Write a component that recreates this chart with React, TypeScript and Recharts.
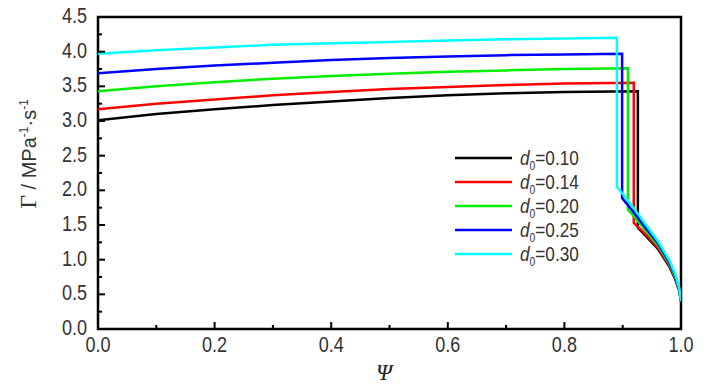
import React from 'react'
import { LineChart, Line, XAxis, YAxis, ReferenceArea, Customized } from 'recharts';

// shared Psi positions of the slowly rising part
const risePsi = [0, 0.1, 0.2, 0.3, 0.4, 0.5, 0.6, 0.7, 0.8];

const labels = ['0.10', '0.14', '0.20', '0.25', '0.30'];
const colors = ['#000000', '#ff0000', '#00ee00', '#0000ff', '#00ffff'];

// rising part (one value per risePsi entry)
const riseBlack = [3.01, 3.10, 3.17, 3.23, 3.28, 3.33, 3.37, 3.40, 3.42];
const riseRed = [3.17, 3.25, 3.31, 3.37, 3.42, 3.46, 3.49, 3.52, 3.54];
const riseGreen = [3.43, 3.50, 3.56, 3.61, 3.65, 3.68, 3.71, 3.73, 3.75];
const riseBlue = [3.69, 3.75, 3.80, 3.84, 3.88, 3.91, 3.93, 3.95, 3.96];
const riseCyan = [3.97, 4.02, 4.06, 4.10, 4.12, 4.14, 4.16, 4.18, 4.19];

// where each curve drops, and the value just before the drop
const dropPsi = [0.926, 0.919, 0.909, 0.899, 0.890];
const dropTop = [3.43, 3.55, 3.76, 3.97, 4.20];

// falling tail after the drop
const tailBlackPsi = [0.926, 0.94, 0.96, 0.98, 0.99, 0.997, 1.0];
const tailBlack = [1.46, 1.34, 1.16, 0.90, 0.72, 0.55, 0.40];
const tailRedPsi = [0.919, 0.94, 0.96, 0.98, 0.99, 0.997, 1.0];
const tailRed = [1.53, 1.36, 1.18, 0.92, 0.74, 0.56, 0.40];
const tailGreenPsi = [0.909, 0.92, 0.94, 0.96, 0.98, 0.99, 0.997, 1.0];
const tailGreen = [1.72, 1.62, 1.41, 1.21, 0.94, 0.75, 0.57, 0.40];
const tailBluePsi = [0.899, 0.92, 0.94, 0.96, 0.98, 0.99, 0.997, 1.0];
const tailBlue = [1.89, 1.67, 1.45, 1.24, 0.96, 0.77, 0.58, 0.40];
const tailCyanPsi = [0.890, 0.90, 0.92, 0.94, 0.96, 0.98, 0.99, 0.997, 1.0];
const tailCyan = [2.05, 1.95, 1.73, 1.50, 1.27, 0.99, 0.79, 0.59, 0.40];

const rises = [riseBlack, riseRed, riseGreen, riseBlue, riseCyan];
const tailsPsi = [tailBlackPsi, tailRedPsi, tailGreenPsi, tailBluePsi, tailCyanPsi];
const tails = [tailBlack, tailRed, tailGreen, tailBlue, tailCyan];

const xTicks = [0, 0.1, 0.2, 0.3, 0.4, 0.5, 0.6, 0.7, 0.8, 0.9, 1.0];
const yTicks = [0, 0.25, 0.5, 0.75, 1, 1.25, 1.5, 1.75, 2, 2.25, 2.5, 2.75, 3, 3.25, 3.5, 3.75, 4, 4.25, 4.5];

const series = labels.map((label, i) => ({
    label,
    color: colors[i],
    data: [
        ...risePsi.map((psi, j) => ({ psi, g: rises[i][j] })),
        { psi: dropPsi[i], g: dropTop[i] },
        ...tailsPsi[i].map((psi, j) => ({ psi, g: tails[i][j] })),
    ],
}));

const tickFont = '"Liberation Sans", Arial, sans-serif';
// the original uses a narrow sans face; squeeze the regular one
const squeeze = 0.82;

const XTick = (props: any) => {
    const { x, y, index, payload } = props;
    const major = index % 2 === 0;
    return (
        <g>
            <line x1={x} x2={x} y1={y} y2={y - (major ? 7 : 4)} stroke="#000" strokeWidth={2} />
            {major && (
                <text transform={`translate(${x},${y + 23}) scale(${squeeze},1)`} textAnchor="middle" fontSize={22} fontFamily={tickFont} fill="#333">
                    {payload.value.toFixed(1)}
                </text>
            )}
        </g>
    );
};

const YTick = (props: any) => {
    const { x, y, index, payload } = props;
    const major = index % 2 === 0;
    return (
        <g>
            <line x1={x} x2={x + (major ? 7 : 4)} y1={y} y2={y} stroke="#000" strokeWidth={2} />
            {major && (
                <text transform={`translate(${x - 11},${y + 6}) scale(${squeeze},1)`} textAnchor="end" fontSize={22} fontFamily={tickFont} fill="#333">
                    {payload.value.toFixed(1)}
                </text>
            )}
        </g>
    );
};

const LegendBox = () => (
    <g>
        {series.map((s, i) => {
            const y = 158 + i * 24;
            return (
                <g key={s.label}>
                    <line x1={455} x2={512} y1={y} y2={y} stroke={s.color} strokeWidth={2.5} />
                    <text transform={`translate(520,${y + 7}) scale(0.86,1)`} fontSize={20} fontFamily={tickFont} fill="#333">
                        <tspan fontStyle="italic">d</tspan>
                        <tspan fontSize={12} dy={5}>0</tspan>
                        <tspan dy={-5}>={s.label}</tspan>
                    </text>
                </g>
            );
        })}
    </g>
);

const AxisTitles = () => (
    <g>
        <text x={384} y={380} textAnchor="middle" fontSize={23} fontStyle="italic"
            fontFamily='"Liberation Serif", "Times New Roman", serif' fill="#222">Ψ</text>
        <text transform="translate(36,154) rotate(-90)" textAnchor="middle" fontSize={20}
            fontFamily={tickFont} fill="#333">
            <tspan fontFamily='"Liberation Serif", serif' fontSize={24}>Γ</tspan>
            <tspan> / MPa</tspan>
            <tspan fontSize={12} dy={-8}>-1</tspan>
            <tspan dy={8}>·s</tspan>
            <tspan fontSize={12} dy={-8}>-1</tspan>
        </text>
    </g>
);

export default function App() {
    return (
        <div style={{ position: 'absolute', left: 0, top: 0, background: '#fff' }}>
            <LineChart width={726} height={390} margin={{ top: 17, right: 45, bottom: 21, left: 38 }}>
                <XAxis
                    type="number"
                    dataKey="psi"
                    domain={[0, 1]}
                    ticks={xTicks}
                    interval={0}
                    height={40}
                    tickSize={0}
                    tickMargin={0}
                    tickLine={false}
                    axisLine={false}
                    tick={<XTick />}
                    allowDataOverflow
                />
                <YAxis
                    type="number"
                    domain={[0, 4.5]}
                    ticks={yTicks}
                    interval={0}
                    width={60}
                    tickSize={0}
                    tickMargin={0}
                    tickLine={false}
                    axisLine={false}
                    tick={<YTick />}
                    allowDataOverflow
                />
                {series.map((s) => (
                    <Line
                        key={s.label}
                        data={s.data}
                        dataKey="g"
                        type="linear"
                        stroke={s.color}
                        strokeWidth={2.5}
                        dot={false}
                        activeDot={false}
                        isAnimationActive={false}
                    />
                ))}
                <ReferenceArea x1={0} x2={1} y1={0} y2={4.5} fill="none" stroke="#000" strokeWidth={2.5} fillOpacity={0} />
                <Customized component={LegendBox} />
                <Customized component={AxisTitles} />
            </LineChart>
        </div>
    )
}
